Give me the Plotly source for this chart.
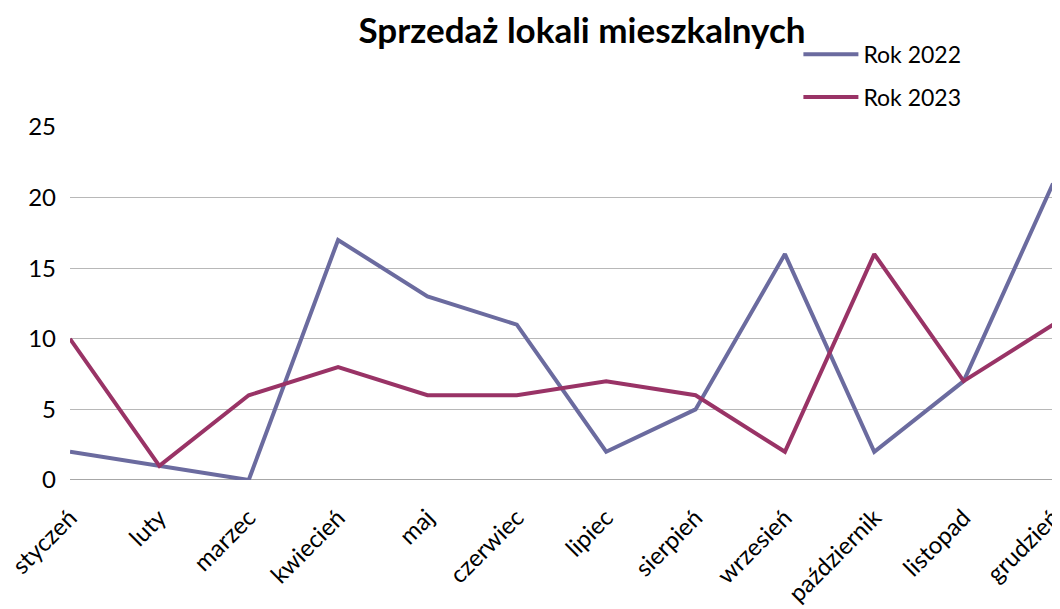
import plotly.graph_objects as go

months = ["styczeń", "luty", "marzec", "kwiecień", "maj", "czerwiec", "lipiec",
          "sierpień", "wrzesień", "październik", "listopad", "grudzień"]
rok_2022 = [2, 1, 0, 17, 13, 11, 2, 5, 16, 2, 7, 21]
rok_2023 = [10, 1, 6, 8, 6, 6, 7, 6, 2, 16, 7, 11]
y_ticks = [0, 5, 10, 15, 20, 25]

FONT = "Lato"

fig = go.Figure()
fig.add_trace(go.Scatter(x=months, y=rok_2022, mode="lines", name="Rok 2022",
                         line=dict(color="#6b6b9f", width=4), legendgroup="a",
                         cliponaxis=False))
fig.add_trace(go.Scatter(x=months, y=rok_2023, mode="lines", name="Rok 2023",
                         line=dict(color="#993366", width=4), legendgroup="b",
                         cliponaxis=False))

fig.update_layout(
    width=1052, height=601,
    margin=dict(l=62, r=7, t=119, b=129, autoexpand=False),
    paper_bgcolor="white", plot_bgcolor="white",
    font=dict(family=FONT, size=23, color="black"),
    title=dict(text="<b>Sprzedaż lokali mieszkalnych</b>", x=0.5456, xanchor="center",
               y=0.962, yanchor="middle", font=dict(family=FONT, size=35, color="black")),
    legend=dict(x=0.741, y=1.267, xanchor="left", yanchor="top",
                font=dict(size=23), tracegroupgap=10, itemwidth=55,
                bgcolor="rgba(0,0,0,0)"),
    xaxis=dict(range=[0, 11], showgrid=False, zeroline=False, showline=False,
               automargin=False, tickangle=-45, ticks="", ticklabelstandoff=18,
               tickfont=dict(size=24)),
    yaxis=dict(range=[0, 25], tickvals=y_ticks, showgrid=True, gridcolor="#b8b8b8",
               gridwidth=1, zeroline=False, showline=False, ticks="", automargin=False,
               ticklabelstandoff=13, tickfont=dict(size=24)),
)
fig.add_hline(y=0, line=dict(color="#8a8a8a", width=1.5), layer="below")
fig.write_html("out.html")
